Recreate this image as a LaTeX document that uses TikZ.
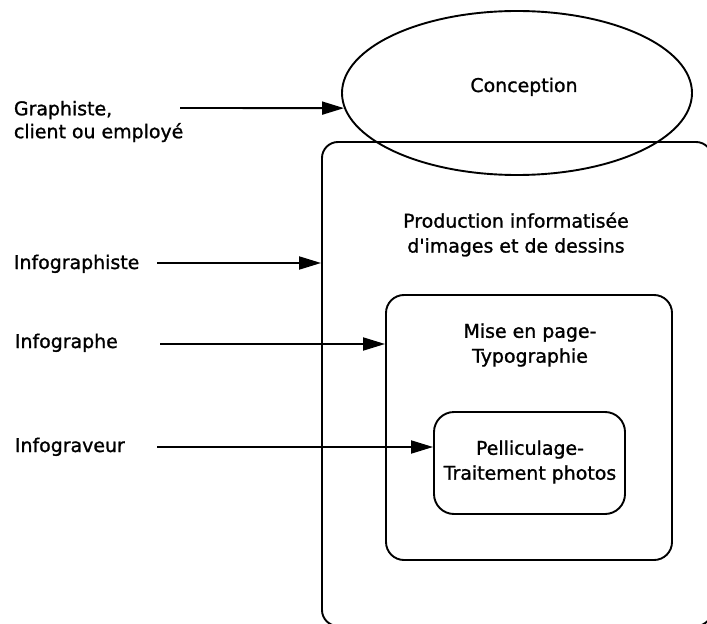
\documentclass[tikz,border=0pt]{standalone}
\usepackage{fontspec}
\setmainfont{DejaVu Sans}[FakeBold=0]
\newfontfamily\labelfont{DejaVu Sans}[FakeBold=1.2]
\usetikzlibrary{arrows.meta,shapes.geometric}
\begin{document}
\begin{tikzpicture}[x=1bp,y=-1bp,
  line width=1.9bp,
  lbl/.style={font=\labelfont\fontsize{19}{25}\selectfont, inner sep=0pt},
  box/.style={draw, rounded corners=16bp, inner sep=0pt},
  feed/.style={-{Triangle[length=22bp,width=13bp]}, line width=1.9bp}]
\useasboundingbox (0,0) rectangle (707,624);
\clip (0,0) rectangle (707,624);

% nested production stages
\node[box, minimum width=390bp, minimum height=484bp] (prod) at (517,384) {};
\node[box, rounded corners=18bp, minimum width=286bp, minimum height=265bp] (mise) at (529,427.5) {};
\node[box, rounded corners=20bp, minimum width=191bp, minimum height=102bp] (pell) at (529.5,463) {};
\node[draw, ellipse, inner sep=0pt, minimum width=350bp, minimum height=164bp] (conc) at (517,93) {};

% stage titles
\node[lbl, anchor=base] (tconc) at (524,92) {Conception};
\node[lbl, align=center] (tprod) at (516,234.5) {Production informatisée\\d\textquotesingle images et de dessins};
\node[lbl, align=center] (tmise) at (530,345) {Mise en page-\\Typographie};
\node[lbl, align=center] (tpell) at (530,462) {Pelliculage-\\Traitement photos};

% roles
\node[lbl, align=left, anchor=west, font=\labelfont\fontsize{19}{23}\selectfont] (graph) at (13,121.5) {Graphiste,\\client ou employé};
\node[lbl, anchor=base west] (infoiste) at (13,269) {Infographiste};
\node[lbl, anchor=base west] (infographe) at (14,348) {Infographe};
\node[lbl, anchor=base west] (infograveur) at (14,452) {Infograveur};

% arrows from each role to its stage
\coordinate (s1) at (180,108);
\coordinate (s2) at (157,263);
\coordinate (s3) at (160,344);
\coordinate (s4) at (157,447);
\draw[feed] (s1) -- (conc.185);
\draw[feed] (s2) -- (s2 -| prod.west);
\draw[feed] (s3) -- (s3 -| mise.west);
\draw[feed] (s4) -- (s4 -| pell.west);
\end{tikzpicture}
\end{document}
